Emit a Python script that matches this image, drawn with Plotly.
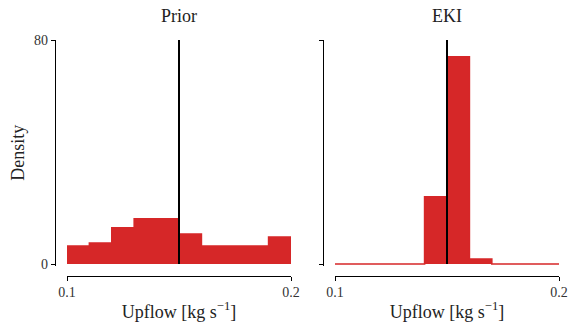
import plotly.graph_objects as go

# ---- data ----
bin_edges = [0.10, 0.11, 0.12, 0.13, 0.14, 0.15, 0.16, 0.17, 0.18, 0.19, 0.20]
prior_density = [6.4, 7.5, 12.9, 16.1, 16.1, 10.7, 6.4, 6.4, 6.4, 9.6]
eki_density = [0.0, 0.0, 0.0, 0.0, 24.0, 74.0, 1.8, 0.0, 0.0, 0.0]
true_value = 0.15
y_top = 80
x_tick_vals = [0.1, 0.2]
x_tick_text = ["0.1", "0.2"]
y_tick_vals = [0, 80]
y_tick_text = ["0", "80"]
panel_titles = ["Prior", "EKI"]

RED = "#d62728"
FONT = "'Liberation Serif', 'DejaVu Serif', serif"
W, H = 568, 322

fig = go.Figure()

widths = [bin_edges[i + 1] - bin_edges[i] for i in range(len(bin_edges) - 1)]
lefts = bin_edges[:-1]

for k, dens in enumerate([prior_density, eki_density]):
    xa = "x" if k == 0 else "x2"
    ya = "y" if k == 0 else "y2"
    fig.add_trace(go.Bar(x=lefts, y=dens, width=widths, offset=0,
                         marker=dict(color=RED, line=dict(width=0)),
                         xaxis=xa, yaxis=ya, showlegend=False))
    # step outline (shows zero-height bins as a thin line)
    sx, sy = [], []
    for i in range(len(dens)):
        sx += [bin_edges[i], bin_edges[i + 1]]
        sy += [dens[i], dens[i]]
    fig.add_trace(go.Scatter(x=sx, y=sy, mode="lines",
                             line=dict(color=RED, width=1.6),
                             xaxis=xa, yaxis=ya,
                             showlegend=False, hoverinfo="skip"))
    fig.add_trace(go.Scatter(x=[true_value, true_value], y=[0, y_top], mode="lines",
                             line=dict(color="black", width=2),
                             xaxis=xa, yaxis=ya,
                             showlegend=False))

PX_PER_UNIT = 224 / y_top
xdoms = [[67 / W, 291 / W], [335 / W, 559 / W]]
ydom = [(H - 265.5) / H, (H - 40) / H]
y_lo = -1.5 / PX_PER_UNIT
xpos = (H - 275.5) / H
ypos = [55 / W, 323.3 / W]

axis_common = dict(showline=True, linecolor="black", linewidth=1.3,
                   ticks="outside", ticklen=4, tickwidth=1.3, tickcolor="black",
                   showgrid=False, zeroline=False,
                   tickfont=dict(family=FONT, size=14, color="#333333"))

for k in range(2):
    sfx = "" if k == 0 else "2"
    fig.layout["xaxis" + sfx] = dict(
        axis_common, domain=xdoms[k], range=[bin_edges[0], bin_edges[-1]],
        anchor="free", position=xpos,
        tickvals=x_tick_vals, ticktext=x_tick_text,
        title=dict(text="Upflow [kg s<sup>−1</sup>]",
                   font=dict(family=FONT, size=18, color="#222222"), standoff=5),
        automargin=False)
    ydict = dict(
        axis_common, domain=ydom, range=[y_lo, y_top],
        anchor="free", position=ypos[k],
        tickvals=y_tick_vals, ticktext=y_tick_text,
        showticklabels=(k == 0), automargin=False)
    if k == 0:
        ydict["title"] = dict(text="Density",
                              font=dict(family=FONT, size=18, color="#222222"), standoff=3)
    fig.layout["yaxis" + sfx] = ydict
    fig.add_annotation(text=panel_titles[k], xref="paper", yref="paper",
                       x=(xdoms[k][0] + xdoms[k][1]) / 2, y=(H - 16) / H,
                       xanchor="center", yanchor="middle", showarrow=False,
                       font=dict(family=FONT, size=18, color="#222222"))

fig.update_layout(width=W, height=H, margin=dict(l=0, r=0, t=0, b=0),
                  plot_bgcolor="white", paper_bgcolor="white",
                  bargap=0, barmode="overlay",
                  font=dict(family=FONT))

fig.write_html("out.html")
